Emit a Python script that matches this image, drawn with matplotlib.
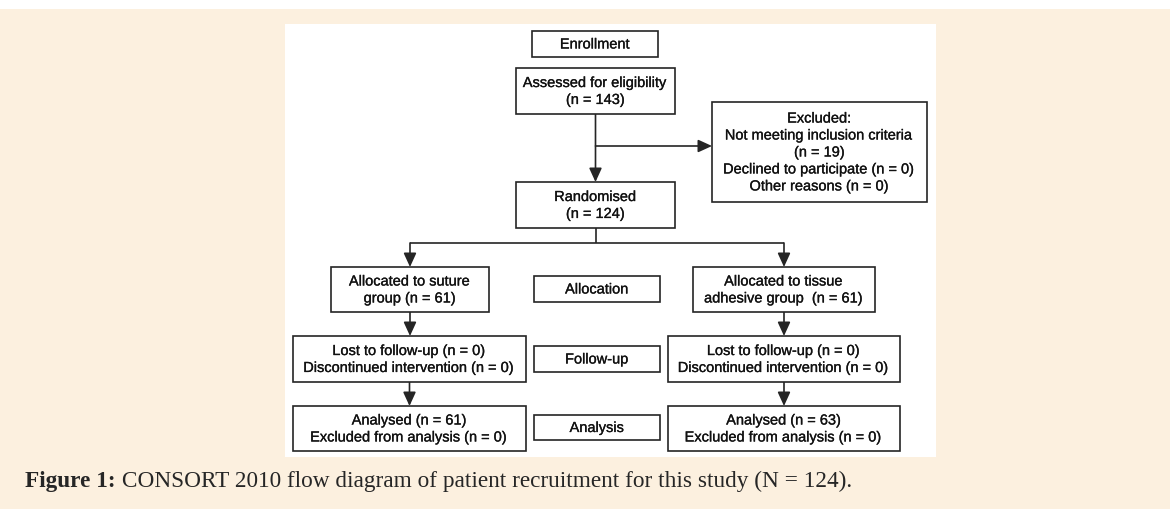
import matplotlib
matplotlib.use("Agg")
import matplotlib.pyplot as plt
from matplotlib.patches import Rectangle
import matplotlib.patheffects as pe

# ---------------- data ----------------
stage_labels = ["Enrollment", "Allocation", "Follow-up", "Analysis"]
assessed_n = 143
randomised_n = 124
excluded_reasons = ["Not meeting inclusion criteria", "Declined to participate", "Other reasons"]
excluded_counts = [19, 0, 0]
arm_names = ["suture", "tissue adhesive"]
allocated_n = [61, 61]
lost_n = [0, 0]
discontinued_n = [0, 0]
analysed_n = [61, 63]
excluded_analysis_n = [0, 0]
caption_bold = "Figure 1:"
caption_text = "CONSORT 2010 flow diagram of patient recruitment for this study (N = 124)."

# ---------------- styling / layout ----------------
W, H = 1170, 510
CREAM = "#FCF0DF"
EDGE = "#252525"
TXT = "#111111"
BOX_FONT = "Liberation Sans"
BOX_FS = 10.5
LW = 1.2
TXT_FX = [pe.withStroke(linewidth=0.2, foreground=TXT)]

fig = plt.figure(figsize=(W / 100, H / 100), dpi=100)
fig.patch.set_facecolor("white")
ax = fig.add_axes([0, 0, 1, 1])
ax.set_xlim(0, W)
ax.set_ylim(H, 0)
ax.axis("off")

ax.add_patch(Rectangle((0, 10), W, H - 10, fc=CREAM, ec="none", zorder=0))
ax.add_patch(Rectangle((285, 25), 651, 433, fc="white", ec="none", zorder=0.5))


def box(b, text):
    x0, x1, y0, y1 = b
    ax.add_patch(Rectangle((x0, y0), x1 - x0, y1 - y0, fc="white", ec=EDGE, lw=LW, zorder=2))
    ax.text((x0 + x1) / 2, (y0 + y1) / 2 + 0.5, text, ha="center", va="center",
            fontsize=BOX_FS, family=BOX_FONT, color=TXT, linespacing=1.27, zorder=3,
            path_effects=TXT_FX)


def cx(b):
    return (b[0] + b[1]) / 2


def line(p, q):
    ax.plot([p[0], q[0]], [p[1], q[1]], color=EDGE, lw=LW, solid_capstyle="butt", zorder=1)


def arrow(p, q):
    ax.annotate("", xy=q, xytext=p, xycoords="data",
                arrowprops=dict(arrowstyle="-|>,head_length=0.7,head_width=0.32",
                                mutation_scale=12, lw=LW, color=EDGE,
                                shrinkA=0, shrinkB=0), zorder=1)


ENR = (532, 658, 32, 58)
ASS = (516, 675, 69, 115)
RAN = (516, 675, 183, 229)
EXC = (712, 927, 103, 203)
ALLOC = [(331, 489, 268, 313), (693, 875, 268, 313)]
LOST = [(293, 526, 337, 383), (668, 900, 337, 383)]
ANAL = [(293, 526, 407, 452), (668, 900, 407, 452)]
ALLOC_LBL = (534, 660, 277, 303)
FU_LBL = (534, 660, 347, 373)
AN_LBL = (534, 660, 416, 441)

box(ENR, stage_labels[0])
box(ASS, f"Assessed for eligibility\n(n = {assessed_n})")
box(RAN, f"Randomised\n(n = {randomised_n})")
exc_text = ("Excluded:\n"
            f"{excluded_reasons[0]}\n(n = {excluded_counts[0]})\n"
            f"{excluded_reasons[1]} (n = {excluded_counts[1]})\n"
            f"{excluded_reasons[2]} (n = {excluded_counts[2]})")
box(EXC, exc_text)

alloc_texts = [f"Allocated to {arm_names[0]}\ngroup (n = {allocated_n[0]})",
               "Allocated to tissue\nadhesive group  (n = %d)" % allocated_n[1]]
for i in range(2):
    box(ALLOC[i], alloc_texts[i])
    box(LOST[i], f"Lost to follow-up (n = {lost_n[i]})\nDiscontinued intervention (n = {discontinued_n[i]})")
    box(ANAL[i], f"Analysed (n = {analysed_n[i]})\nExcluded from analysis (n = {excluded_analysis_n[i]})")

box(ALLOC_LBL, stage_labels[1])
box(FU_LBL, stage_labels[2])
box(AN_LBL, stage_labels[3])

# connectors
mx = 595.5
arrow((mx, ASS[3]), (mx, RAN[2]))
arrow((mx, 147), (EXC[0], 147))
split_y = 244
line((mx, RAN[3]), (mx, split_y))
line((cx(ALLOC[0]), split_y), (cx(ALLOC[1]), split_y))
for i in range(2):
    arrow((cx(ALLOC[i]), split_y), (cx(ALLOC[i]), ALLOC[i][2]))
    arrow((cx(ALLOC[i]), ALLOC[i][3]), (cx(ALLOC[i]), LOST[i][2]))
    arrow((cx(LOST[i]), LOST[i][3]), (cx(LOST[i]), ANAL[i][2]))

# caption, fitted to the reference width
CAP_FONT = "Liberation Serif"
x_start, x_end, base_y = 25, 857, 487
renderer = fig.canvas.get_renderer()


def measure(fs):
    t1 = ax.text(0, 0, caption_bold, fontsize=fs, family=CAP_FONT, weight="bold")
    t2 = ax.text(0, 0, " " + caption_text, fontsize=fs, family=CAP_FONT)
    w1 = t1.get_window_extent(renderer).width
    w2 = t2.get_window_extent(renderer).width
    t1.remove(); t2.remove()
    return w1, w2

w1, w2 = measure(14)
fs = 14 * (x_end - x_start) / (w1 + w2)
w1, w2 = measure(fs)
ax.text(x_start, base_y, caption_bold, fontsize=fs, family=CAP_FONT, weight="bold",
        color="#262626", ha="left", va="baseline")
ax.text(x_start + w1, base_y, " " + caption_text, fontsize=fs, family=CAP_FONT,
        color="#262626", ha="left", va="baseline")

fig.savefig("out.png", dpi=100, facecolor=fig.get_facecolor())
